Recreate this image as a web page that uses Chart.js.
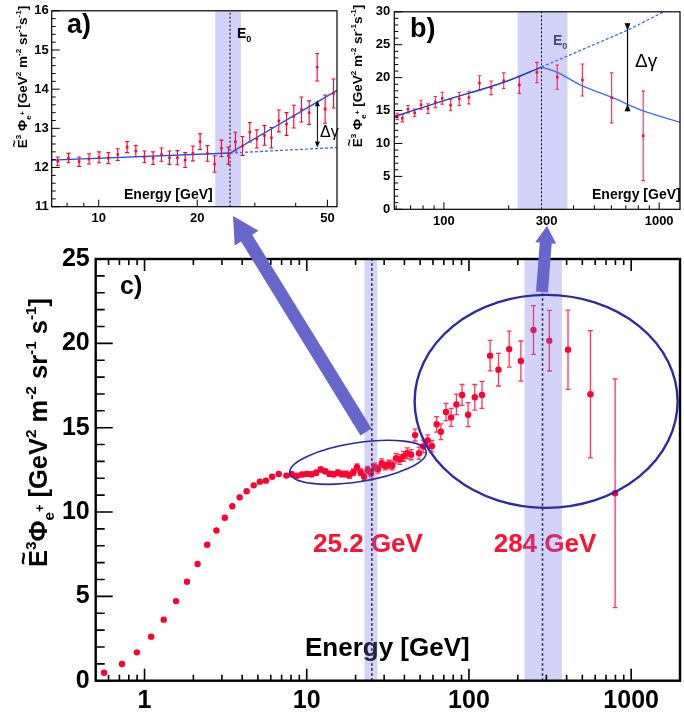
<!DOCTYPE html>
<html><head><meta charset="utf-8">
<script src="https://cdn.jsdelivr.net/npm/chart.js@4.4.1/dist/chart.umd.min.js"></script>
<style>
html,body{margin:0;padding:0;background:#fff;}
#wrap{position:relative;width:684px;height:715px;overflow:hidden;background:#fff;}
canvas{position:absolute;}
#cMain{left:0;top:0;}
#cA{left:0;top:0;}
#cB{left:340px;top:0;}
</style></head>
<body>
<div id="wrap">
<canvas id="cMain" width="684" height="715"></canvas>
<canvas id="cA" width="345" height="235"></canvas>
<canvas id="cB" width="344" height="235"></canvas>
</div>
<script>
// ---------------- DATA ----------------
// main panel c): low-energy points (read from panel c)
const lowE = [0.563,0.726,0.897,1.099,1.313,1.564,1.827,2.123,2.434,2.774,3.124,3.478,3.86,4.26,4.71,5.14,5.6,6.12,6.72];
const lowY = [0.47,0.99,1.68,2.61,3.62,4.72,5.87,6.92,8.06,8.91,9.66,10.34,10.87,11.23,11.58,11.80,11.86,12.09,12.25];
// mid-energy points (panel a)
const aE = [7.49,8.08,8.71,9.34,10.02,10.70,11.43,12.21,12.98,13.79,14.66,15.55,16.45,17.40,18.37,19.39,20.41,21.50,22.59,23.72,24.92,26.17,27.50,28.96,30.42,32.11,33.73,35.52,37.50,39.47,41.66,43.98,46.53,49.22,52.20];
const aY = [12.16,12.24,12.15,12.22,12.26,12.24,12.33,12.52,12.42,12.27,12.24,12.33,12.25,12.25,12.19,12.36,12.66,12.36,12.09,12.49,12.30,12.66,12.55,12.90,12.73,12.82,12.76,13.19,13.11,13.30,13.48,13.40,14.56,13.49,13.89];
const aErr = [0.11,0.12,0.12,0.13,0.14,0.14,0.15,0.14,0.14,0.15,0.16,0.17,0.17,0.18,0.19,0.19,0.20,0.20,0.21,0.21,0.22,0.24,0.24,0.25,0.23,0.25,0.26,0.28,0.29,0.29,0.32,0.30,0.35,0.36,0.37];
// high-energy points
const highE = [55.7,59.1,63.2,67.1,72.2,77.6,83.7,90.7,98.8,108.6,120.3,135,152,177,209,250,313,408,561,796];
const highY = [14.25,13.91,15.2,14.76,15.93,15.61,16.38,16.94,15.77,16.8,16.94,19.27,18.44,19.66,18.95,20.79,20.16,19.62,16.98,11.11];
const highErr = [0.32,0.34,0.46,0.47,0.51,0.53,0.61,0.62,0.71,0.76,0.8,0.9,0.97,1.07,1.19,1.45,1.8,2.35,3.77,6.78];
// panel b) points
const bE = [60.6,64.1,68.1,73.1,78.3,84.3,91.2,98.2,107.4,117.8,130.6,146.3,165.6,189.6,224.0,270.4,336.0,440.0,601.6,843.3];
const bY = [14.11,13.82,15.20,14.66,15.89,15.30,16.29,16.88,15.84,16.78,16.98,19.20,18.46,19.54,18.90,20.77,20.08,19.64,16.93,11.15];
const bErr = [0.49,0.54,0.57,0.57,0.67,0.74,0.84,0.91,0.86,0.99,0.96,1.09,1.04,1.18,1.31,1.55,1.85,2.42,3.8,6.8];
// fit curves
const fitAE = [7.18,25.2,53.5];       const fitAY = [12.19,12.37,13.97];
const fitADashE = [25.2,53.5];        const fitADashY = [12.37,12.51];
const fitB1E = [58.8,100,190,284];    const fitB1Y = [14.1,16.5,19.3,21.6];
const fitB2E = [284,336,440,601,843,1250]; const fitB2Y = [21.6,20.8,18.75,17.03,14.95,13.2];
const fitBDashE = [284,713,1051,1250]; const fitBDashY = [21.6,27.2,30.0,31.4];
// transition energies and bands
const E0 = [25.2, 284];
const bandLo = [22.7, 220];
const bandHi = [27.2, 375];
const e0Labels = ['25.2 GeV','284 GeV'];
// delta-gamma markers
const dgA = {E:46.6, y0:12.51, y1:13.72};
const dgB = {E:713, y0:15.94, y1:27.2};
// tick labels
const mainXLabels = [1,10,100,1000];
const mainXMinor = [0.5,0.6,0.7,0.8,0.9,2,3,4,5,6,7,8,9,20,30,40,50,60,70,80,90,200,300,400,500,600,700,800,900];
const mainYMajor = [0,5,10,15,20,25];
const mainYMinor = [1,2,3,4,6,7,8,9,11,12,13,14,16,17,18,19,21,22,23,24];
const aXLabels = [10,20,50];
const aXMinor = [8,9,30,40];
const aYMajor = [11,12,13,14,15,16];
const aYMinor = [11.2,11.4,11.6,11.8,12.2,12.4,12.6,12.8,13.2,13.4,13.6,13.8,14.2,14.4,14.6,14.8,15.2,15.4,15.6,15.8];
const bXLabels = [100,300,1000];
const bXMinor = [60,70,80,90,200,400,500,600,700,800,900];
const bYMajor = [0,5,10,15,20,25,30];
const bYMinor = [1,2,3,4,6,7,8,9,11,12,13,14,16,17,18,19,21,22,23,24,26,27,28,29];

// ---------------- STYLE ----------------
const FONT = '"Liberation Sans", Arial, Helvetica, sans-serif';
const RED = 'rgb(255,0,48)';
const BAND = 'rgba(110,110,235,0.30)';
const ARROW = '#6666cc';
const ELL = '#2a2aa6';

const pts = (xs, ys) => xs.map((x,i)=>({x, y:ys[i]}));
const mainE = [...lowE, ...aE, ...highE];
const mainY = [...lowY, ...aY, ...highY];
const mainErr = [...lowE.map(()=>0), ...aErr, ...highErr];

function drawRich(ctx, x, y, parts, size, opts={}) {
  ctx.save();
  ctx.translate(x, y);
  if (opts.rot) ctx.rotate(opts.rot);
  const w = (opts.weight || 'bold');
  let total = 0;
  for (const p of parts) {
    ctx.font = `${w} ${size*(p.sc||1)}px ${FONT}`;
    total += ctx.measureText(p.t).width;
  }
  let cx = opts.align === 'center' ? -total/2 : (opts.align === 'right' ? -total : 0);
  ctx.fillStyle = opts.color || '#000';
  ctx.textBaseline = 'alphabetic';
  ctx.textAlign = 'left';
  for (const p of parts) {
    const fs = size*(p.sc||1);
    ctx.font = `${w} ${fs}px ${FONT}`;
    const tw = ctx.measureText(p.t).width;
    ctx.fillText(p.t, cx, -(p.dy||0)*size);
    if (p.tilde) {
      ctx.font = `${w} ${fs*0.9}px ${FONT}`;
      const tl = ctx.measureText('~').width;
      ctx.fillText('~', cx + tw/2 - tl/2, -0.62*size);
      ctx.font = `${w} ${fs}px ${FONT}`;
    }
    cx += tw;
  }
  ctx.restore();
}

const titleParts = [
  {t:'E', tilde:true}, {t:'3', sc:.6, dy:.45}, {t:'\u03A6'}, {t:'e', sc:.6, dy:-.28}, {t:'+', sc:.5, dy:.12},
  {t:' [GeV'}, {t:'2', sc:.6, dy:.45}, {t:' m'}, {t:'-2', sc:.6, dy:.45}, {t:' sr'}, {t:'-1', sc:.6, dy:.45},
  {t:' s'}, {t:'-1', sc:.6, dy:.45}, {t:']'}
];
const titlePartsSmall = [
  {t:'E', tilde:true}, {t:'3', sc:.6, dy:.45}, {t:' \u03A6'}, {t:'e', sc:.6, dy:-.28}, {t:'+', sc:.5, dy:.12},
  {t:' [GeV'}, {t:'2', sc:.6, dy:.45}, {t:' m'}, {t:'-2', sc:.6, dy:.45}, {t:' sr'}, {t:'-1', sc:.6, dy:.45},
  {t:'s'}, {t:'-1', sc:.6, dy:.45}, {t:']'}
];
const e0Parts = [{t:'E'},{t:'0', sc:.65, dy:-.25}];

function drawErrors(chart, dsIndex, errs, cap, color, lw) {
  const ds = chart.data.datasets[dsIndex];
  const xs = chart.scales.x, ys = chart.scales.y, ca = chart.chartArea, ctx = chart.ctx;
  ctx.save();
  ctx.beginPath(); ctx.rect(ca.left, ca.top, ca.right-ca.left, ca.bottom-ca.top); ctx.clip();
  ctx.strokeStyle = color; ctx.lineWidth = lw;
  ctx.beginPath();
  ds.data.forEach((d,i)=>{
    const e = errs[i]; if (!e) return;
    const x = xs.getPixelForValue(d.x);
    const y0 = ys.getPixelForValue(d.y - e), y1 = ys.getPixelForValue(d.y + e);
    ctx.moveTo(x, y0); ctx.lineTo(x, y1);
    if (cap) { ctx.moveTo(x-cap, y0); ctx.lineTo(x+cap, y0); ctx.moveTo(x-cap, y1); ctx.lineTo(x+cap, y1); }
  });
  ctx.stroke();
  ctx.restore();
}

function drawBand(chart, lo, hi) {
  const xs = chart.scales.x, ca = chart.chartArea, ctx = chart.ctx;
  const x0 = xs.getPixelForValue(lo), x1 = xs.getPixelForValue(hi);
  ctx.save(); ctx.fillStyle = BAND;
  ctx.fillRect(x0, ca.top, x1-x0, ca.bottom-ca.top);
  ctx.restore();
}
function drawDotted(chart, v, lw, dash, color) {
  const xs = chart.scales.x, ca = chart.chartArea, ctx = chart.ctx;
  const x = xs.getPixelForValue(v);
  ctx.save(); ctx.strokeStyle = color; ctx.lineWidth = lw; ctx.setLineDash(dash);
  ctx.beginPath(); ctx.moveTo(x, ca.bottom); ctx.lineTo(x, ca.top); ctx.stroke();
  ctx.restore();
}
function drawFrameTicks(chart, cfg) {
  const ctx = chart.ctx, ca = chart.chartArea, xs = chart.scales.x, ys = chart.scales.y;
  ctx.save();
  ctx.strokeStyle = '#000'; ctx.lineWidth = cfg.tickLw;
  ctx.beginPath();
  const xl = [[cfg.xMaj, cfg.xMajLen],[cfg.xMin, cfg.xMinLen]];
  for (const [vals, len] of xl) for (const v of vals) {
    const p = xs.getPixelForValue(v);
    if (p < ca.left+1 || p > ca.right-1) continue;
    ctx.moveTo(p, ca.bottom); ctx.lineTo(p, ca.bottom-len);
    if (cfg.top) { ctx.moveTo(p, ca.top); ctx.lineTo(p, ca.top+len); }
  }
  const yl = [[cfg.yMaj, cfg.yMajLen],[cfg.yMin, cfg.yMinLen]];
  for (const [vals, len] of yl) for (const v of vals) {
    const p = ys.getPixelForValue(v);
    ctx.moveTo(ca.left, p); ctx.lineTo(ca.left+len, p);
    if (cfg.right) { ctx.moveTo(ca.right, p); ctx.lineTo(ca.right-len, p); }
  }
  ctx.stroke();
  ctx.lineWidth = cfg.frameLw;
  ctx.strokeRect(ca.left, ca.top, ca.right-ca.left, ca.bottom-ca.top);
  ctx.restore();
}
function dblArrow(ctx, x, y0, y1, lw, hl, hw) {
  ctx.save(); ctx.strokeStyle = '#000'; ctx.fillStyle = '#000'; ctx.lineWidth = lw;
  ctx.beginPath(); ctx.moveTo(x, y0 - hl); ctx.lineTo(x, y1 + hl); ctx.stroke();
  ctx.beginPath(); ctx.moveTo(x, y0); ctx.lineTo(x-hw, y0-hl); ctx.lineTo(x+hw, y0-hl); ctx.closePath(); ctx.fill();
  ctx.beginPath(); ctx.moveTo(x, y1); ctx.lineTo(x-hw, y1+hl); ctx.lineTo(x+hw, y1+hl); ctx.closePath(); ctx.fill();
  ctx.restore();
}
function fatArrow(ctx, x0, y0, x1, y1, w, hw, hl, color) {
  const dx = x1-x0, dy = y1-y0, L = Math.hypot(dx,dy), ux = dx/L, uy = dy/L, nx = -uy, ny = ux;
  const bx = x1-ux*hl, by = y1-uy*hl;
  ctx.save(); ctx.fillStyle = color;
  ctx.beginPath();
  ctx.moveTo(x0+nx*w/2, y0+ny*w/2);
  ctx.lineTo(bx+nx*w/2, by+ny*w/2);
  ctx.lineTo(bx+nx*hw/2, by+ny*hw/2);
  ctx.lineTo(x1, y1);
  ctx.lineTo(bx-nx*hw/2, by-ny*hw/2);
  ctx.lineTo(bx-nx*w/2, by-ny*w/2);
  ctx.lineTo(x0-nx*w/2, y0-ny*w/2);
  ctx.closePath(); ctx.fill();
  ctx.restore();
}

const common = {
  responsive:false, animation:false, devicePixelRatio:1, events:[],
  plugins:{legend:{display:false}, tooltip:{enabled:false}}
};
const logLabelCb = v => String(v);

// ---------------- MAIN PANEL c) ----------------
const mainPlugin = {
  id:'mainDeco',
  beforeDatasetsDraw(chart) {
    drawErrors(chart, 0, mainErr, 2.5, 'rgba(255,0,48,0.8)', 1.3);
  },
  afterDatasetsDraw(chart) {
    const ctx = chart.ctx, xs = chart.scales.x, ys = chart.scales.y;
    ctx.save();
    ctx.fillStyle = 'rgb(255,16,48)'; ctx.font = `bold 26px ${FONT}`; ctx.textAlign = 'center'; ctx.textBaseline = 'alphabetic';
    ctx.fillText(e0Labels[0], 368, 552);
    ctx.fillText(e0Labels[1], 545, 552);
    ctx.fillStyle = '#000'; ctx.textAlign = 'left';
    ctx.fillText('Energy [GeV]', 305, 656);
    ctx.font = `bold 25px ${FONT}`;
    ctx.fillText('c)', 120, 294);
    ctx.restore();
    for (let i = 0; i < E0.length; i++) {
      drawBand(chart, bandLo[i], bandHi[i]);
      drawDotted(chart, E0[i], 1.6, [2.5,2.5], '#2a2a50');
    }
    ctx.save(); ctx.strokeStyle = ELL;
    ctx.lineWidth = 1.6;
    ctx.beginPath(); ctx.ellipse(xs.getPixelForValue(20.7), ys.getPixelForValue(12.95), 69, 19.5, -0.155, 0, Math.PI*2); ctx.stroke();
    ctx.lineWidth = 2.4;
    ctx.beginPath(); ctx.ellipse(xs.getPixelForValue(299), ys.getPixelForValue(16.56), 131.5, 106.5, 0, 0, Math.PI*2); ctx.stroke();
    ctx.restore();
    drawFrameTicks(chart, {
      xMaj: mainXLabels, xMajLen: 12, xMin: mainXMinor, xMinLen: 6,
      yMaj: mainYMajor, yMajLen: 17, yMin: mainYMinor, yMinLen: 9,
      top: true, right: false, tickLw: 1.6, frameLw: 2.4
    });
    drawRich(ctx, 47, 567, titleParts, 25.5, {rot: -Math.PI/2});
    fatArrow(ctx, 366, 432, 233, 216, 13, 28, 26, ARROW);
    fatArrow(ctx, 542, 292, 547, 226, 12, 21, 17, ARROW);
  }
};

new Chart(document.getElementById('cMain'), {
  type:'scatter',
  data:{datasets:[
    {data: pts(mainE, mainY), pointRadius:3.2, pointBackgroundColor:RED, pointBorderWidth:0, pointStyle:'circle'}
  ]},
  options:{...common,
    layout:{padding:{left:0, top:259, right:3.3, bottom:0}},
    scales:{
      x:{type:'logarithmic', min:0.5, max:2000,
        afterBuildTicks: s => { s.ticks = mainXLabels.map(v => ({value:v})); },
        afterFit: s => { s.height = 34.3; },
        ticks:{callback: logLabelCb, autoSkip:false, maxRotation:0, padding:5, color:'#000', font:{family:FONT, size:25, weight:'bold'}},
        grid:{display:false, drawTicks:false}, border:{display:false}},
      y:{type:'linear', min:0, max:25,
        afterFit: s => { s.width = 95.7; },
        ticks:{stepSize:5, padding:6, color:'#000', font:{family:FONT, size:25, weight:'bold'}},
        grid:{display:false, drawTicks:false}, border:{display:false}}
    }
  },
  plugins:[mainPlugin]
});

// ---------------- INSET a) ----------------
const insetAPlugin = {
  id:'insetA',
  beforeDatasetsDraw(chart) {
    drawBand(chart, bandLo[0], bandHi[0]);
    drawDotted(chart, E0[0], 1, [2,2], '#000');
    drawErrors(chart, 0, aErr, 2, RED, 1.1);
  },
  afterDatasetsDraw(chart) {
    const ctx = chart.ctx, xs = chart.scales.x, ys = chart.scales.y;
    drawFrameTicks(chart, {
      xMaj: aXLabels, xMajLen: 7, xMin: aXMinor, xMinLen: 4,
      yMaj: aYMajor, yMajLen: 8, yMin: aYMinor, yMinLen: 4,
      top: false, right: false, tickLw: 1, frameLw: 1.2
    });
    ctx.save(); ctx.fillStyle = '#000'; ctx.textBaseline = 'alphabetic';
    ctx.font = `bold 27px ${FONT}`; ctx.fillText('a)', 67, 33);
    ctx.font = `bold 14px ${FONT}`; ctx.fillText('Energy [GeV]', 124, 199);
    ctx.font = `16px ${FONT}`; ctx.fillText('\u0394\u03B3', 320, 137);
    ctx.restore();
    drawRich(ctx, 237, 38, e0Parts, 14);
    dblArrow(ctx, xs.getPixelForValue(dgA.E), ys.getPixelForValue(dgA.y0), ys.getPixelForValue(dgA.y1), 1, 6, 2.5);
    drawRich(ctx, 27, 77, titlePartsSmall, 13.5, {rot:-Math.PI/2, align:'center'});
  }
};
new Chart(document.getElementById('cA'), {
  type:'scatter',
  data:{datasets:[
    {data: pts(aE, aY), pointRadius:1.8, pointStyle:'rect', pointBackgroundColor:RED, pointBorderWidth:0},
    {data: pts(fitAE, fitAY), showLine:true, pointRadius:0, borderColor:'#2a4fe0', borderWidth:1.4},
    {data: pts(fitADashE, fitADashY), showLine:true, pointRadius:0, borderColor:'#3d6cf0', borderWidth:1.3, borderDash:[3,2]}
  ]},
  options:{...common,
    layout:{padding:{left:0, top:5.7, right:8, bottom:0}},
    scales:{
      x:{type:'logarithmic', min:7.18, max:53.5,
        afterBuildTicks: s => { s.ticks = aXLabels.map(v => ({value:v})); },
        afterFit: s => { s.height = 28.3; },
        ticks:{callback: logLabelCb, autoSkip:false, maxRotation:0, padding:4, color:'#000', font:{family:FONT, size:13, weight:'bold'}},
        grid:{display:false, drawTicks:false}, border:{display:false}},
      y:{type:'linear', min:11, max:16,
        afterFit: s => { s.width = 51.7; },
        ticks:{stepSize:1, padding:3, color:'#000', font:{family:FONT, size:13, weight:'bold'}},
        grid:{display:false, drawTicks:false}, border:{display:false}}
    }
  },
  plugins:[insetAPlugin]
});

// ---------------- INSET b) ----------------
const insetBPlugin = {
  id:'insetB',
  beforeDatasetsDraw(chart) {
    drawBand(chart, bandLo[1], bandHi[1]);
    drawDotted(chart, E0[1], 1, [2,2], '#000');
    drawErrors(chart, 0, bErr, 1.8, 'rgba(255,0,48,0.85)', 1.1);
  },
  afterDatasetsDraw(chart) {
    const ctx = chart.ctx, xs = chart.scales.x, ys = chart.scales.y;
    drawFrameTicks(chart, {
      xMaj: [bXLabels[0], bXLabels[2]], xMajLen: 7, xMin: bXMinor, xMinLen: 4,
      yMaj: bYMajor, yMajLen: 8, yMin: bYMinor, yMinLen: 4,
      top: false, right: false, tickLw: 1, frameLw: 1.2
    });
    ctx.save(); ctx.fillStyle = '#000'; ctx.textBaseline = 'alphabetic';
    ctx.font = `bold 27px ${FONT}`; ctx.fillText('b)', 70, 37);
    ctx.font = `bold 14px ${FONT}`; ctx.fillText('Energy [GeV]', 252, 199);
    ctx.font = `19px ${FONT}`; ctx.fillText('\u0394\u03B3', 295, 67);
    ctx.restore();
    drawRich(ctx, 213, 45, e0Parts, 14, {color:'#4a4a82'});
    dblArrow(ctx, xs.getPixelForValue(dgB.E), ys.getPixelForValue(dgB.y1), ys.getPixelForValue(dgB.y0), 1.2, 7, 3);
    drawRich(ctx, 22, 76, titlePartsSmall, 13.5, {rot:-Math.PI/2, align:'center'});
  }
};
new Chart(document.getElementById('cB'), {
  type:'scatter',
  data:{datasets:[
    {data: pts(bE, bY), pointRadius:1.8, pointStyle:'rect', pointBackgroundColor:RED, pointBorderWidth:0},
    {data: pts(fitB1E, fitB1Y), showLine:true, pointRadius:0, borderColor:'#1f3fbf', borderWidth:1.4, tension:0.3},
    {data: pts(fitB2E, fitB2Y), showLine:true, pointRadius:0, borderColor:'#3a6ef0', borderWidth:1.4, tension:0.3},
    {data: pts(fitBDashE, fitBDashY), showLine:true, pointRadius:0, borderColor:'#3d6cf0', borderWidth:1.3, borderDash:[3,2]}
  ]},
  options:{...common,
    layout:{padding:{left:0, top:6.7, right:1, bottom:0}},
    scales:{
      x:{type:'logarithmic', min:58.8, max:1250,
        afterBuildTicks: s => { s.ticks = bXLabels.map(v => ({value:v})); },
        afterFit: s => { s.height = 25.7; },
        ticks:{callback: logLabelCb, autoSkip:false, maxRotation:0, padding:4, color:'#000', font:{family:FONT, size:13, weight:'bold'}},
        grid:{display:false, drawTicks:false}, border:{display:false}},
      y:{type:'linear', min:0, max:30,
        afterFit: s => { s.width = 54.3; },
        ticks:{stepSize:5, padding:4, color:'#000', font:{family:FONT, size:13, weight:'bold'}},
        grid:{display:false, drawTicks:false}, border:{display:false}}
    }
  },
  plugins:[insetBPlugin]
});
</script>
</body></html>
